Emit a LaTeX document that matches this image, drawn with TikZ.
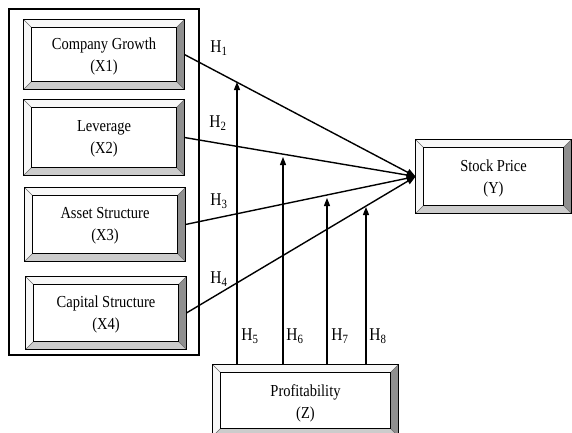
\documentclass[tikz,border=0pt]{standalone}
\usepackage{fontspec}
\usepackage{graphicx}
\setmainfont{Liberation Serif}
\usetikzlibrary{arrows.meta}
\newcommand{\vs}[1]{\scalebox{1}[1.16]{#1}}
\tikzset{
  bbox/.style={draw=black, line width=0.8pt, fill=white, inner sep=0pt},
  btext/.style={font=\fontsize{14.5}{22}\selectfont, align=center, inner sep=0pt},
  lbl/.style={font=\fontsize{15.5}{18}\selectfont, inner sep=0pt},
  path/.style={line width=1.4pt, -{Triangle[length=9pt,width=7pt]}},
  mod/.style={line width=1.1pt, -{Triangle[length=8pt,width=6pt]}},
}
% \bevel{node}{depth}
\newcommand{\bevel}[2]{%
  \fill[white!94!gray] (#1.north west) -- (#1.north east) -- ([shift={(-#2,#2)}]#1.north east) -- ([shift={(#2,#2)}]#1.north west) -- cycle;
  \fill[white!94!gray] (#1.north west) -- (#1.south west) -- ([shift={(#2,-#2)}]#1.south west) -- ([shift={(#2,#2)}]#1.north west) -- cycle;
  \fill[gray!88] (#1.north east) -- (#1.south east) -- ([shift={(-#2,-#2)}]#1.south east) -- ([shift={(-#2,#2)}]#1.north east) -- cycle;
  \fill[gray!40] (#1.south west) -- (#1.south east) -- ([shift={(-#2,-#2)}]#1.south east) -- ([shift={(#2,-#2)}]#1.south west) -- cycle;
  \draw[gray!80!black, line width=0.5pt] (#1.north west) -- ([shift={(#2,#2)}]#1.north west)
    (#1.north east) -- ([shift={(-#2,#2)}]#1.north east)
    (#1.south west) -- ([shift={(#2,-#2)}]#1.south west)
    (#1.south east) -- ([shift={(-#2,-#2)}]#1.south east);
  \draw[black, line width=0.8pt] ([shift={(#2,#2)}]#1.north west) rectangle ([shift={(-#2,-#2)}]#1.south east);
  \draw[black, line width=0.8pt] (#1.north west) rectangle (#1.south east);
}
\begin{document}
\begin{tikzpicture}[x=1pt,y=-1pt]
\useasboundingbox (0,0) rectangle (572,432);
% outer frame
\draw[line width=2pt] (9,9) rectangle (199,355);
% boxes
\node[bbox, minimum width=160pt, minimum height=69pt] (b1) at (104,54.5) {};
\bevel{b1}{8}
\node[btext] (t1) at ([yshift=-1.5pt]b1.center) {\vs{Company Growth}\\\vs{(X1)}};
\node[bbox, minimum width=160pt, minimum height=75pt] (b2) at (104,137.5) {};
\bevel{b2}{8}
\node[btext] (t2) at ([yshift=-1.5pt]b2.center) {\vs{Leverage}\\\vs{(X2)}};
\node[bbox, minimum width=160pt, minimum height=73pt] (b3) at (105,224.5) {};
\bevel{b3}{8}
\node[btext] (t3) at ([yshift=-1.5pt]b3.center) {\vs{Asset Structure}\\\vs{(X3)}};
\node[bbox, minimum width=160pt, minimum height=72pt] (b4) at (106,313) {};
\bevel{b4}{8}
\node[btext] (t4) at ([yshift=-1.5pt]b4.center) {\vs{Capital Structure}\\\vs{(X4)}};
\node[bbox, minimum width=155pt, minimum height=73pt] (y) at (493.5,176.5) {};
\bevel{y}{8}
\node[btext] (ty) at ([yshift=-1.5pt]y.center) {\vs{Stock Price}\\\vs{(Y)}};
\node[bbox, minimum width=185pt, minimum height=71pt] (z) at (305.5,400.5) {};
\bevel{z}{8}
\node[btext] (tz) at ([yshift=-3pt]z.center) {\vs{Profitability}\\\vs{(Z)}};
% tips on paths
\coordinate (p5) at (237,82);
\coordinate (p6) at (283,157);
\coordinate (p7) at (327,198);
\coordinate (p8) at (366,207);
% main paths
\draw[path] (b1.east) -- (y.west);
\draw[path] (b2.east) -- (y.west);
\draw[path] (b3.east) -- (y.west);
\draw[path] (b4.east) -- (y.west);
% moderation arrows
\draw[mod] (z.north -| p5) -- (p5);
\draw[mod] (z.north -| p6) -- (p6);
\draw[mod] (z.north -| p7) -- (p7);
\draw[mod] (z.north -| p8) -- (p8);
% labels
\node[lbl] (h1) at (219,48) {\vs{H\textsubscript{1}}};
\node[lbl] (h2) at (218,123) {\vs{H\textsubscript{2}}};
\node[lbl] (h3) at (219,201) {\vs{H\textsubscript{3}}};
\node[lbl] (h4) at (219,279) {\vs{H\textsubscript{4}}};
\node[lbl] (h5) at (250,336) {\vs{H\textsubscript{5}}};
\node[lbl] (h6) at (295,336) {\vs{H\textsubscript{6}}};
\node[lbl] (h7) at (340,336) {\vs{H\textsubscript{7}}};
\node[lbl] (h8) at (378,336) {\vs{H\textsubscript{8}}};
\end{tikzpicture}
\end{document}
